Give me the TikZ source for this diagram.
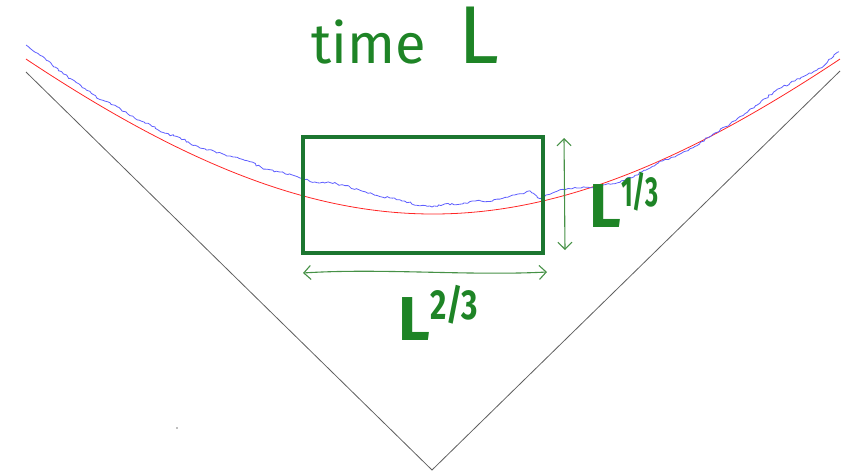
\documentclass[tikz,border=0pt]{standalone}
\usepackage{fontspec}
\newfontfamily\handfont{Fira Sans}
\usetikzlibrary{arrows.meta,decorations.pathmorphing}
\definecolor{boxgreen}{RGB}{28,118,48}
\definecolor{textgreen}{RGB}{30,132,38}
\definecolor{arrowgreen}{RGB}{70,145,70}
\definecolor{walkblue}{RGB}{95,95,255}
\definecolor{wedgegray}{RGB}{95,95,95}
\newcommand{\powlabel}[3]{L\kern#3\raisebox{21pt}{\fontsize{42}{42}\selectfont\scalebox{#2}[1]{#1}}}
\tikzset{
  wedge/.style={wedgegray, line width=0.8pt},
  limit/.style={red!85!white, line width=0.8pt},
  walk/.style={walkblue, line width=0.8pt,
    decorate, decoration={random steps, segment length=2.5pt, amplitude=1pt}},
  window/.style={boxgreen, line width=4pt},
  measure/.style={arrowgreen, line width=1.1pt,
    {Straight Barb[length=7pt,width=14pt]}-{Straight Barb[length=7pt,width=14pt]}},
  hand/.style={textgreen, font=\handfont, anchor=base west, inner sep=0pt},
}
\begin{document}
\begin{tikzpicture}[x=1pt,y=-1pt]
\useasboundingbox (0,0) rectangle (849,474);
\pgfmathsetseed{11}
% wedge
\coordinate (wl) at (26,72);
\coordinate (apex) at (432,470);
\coordinate (wr) at (840,71);
\draw[wedge] (wl) -- (apex) -- (wr);
\fill[black!25] (176,427) rectangle (178,429);
% limit shape
\draw[limit] plot[domain=26:840, samples=120] (\x,{671-457*sqrt(1+((\x-433)/457)^2)});
% interface
\draw[walk] (26,45) \foreach \x/\o in {40/13, 55/11, 70/9, 85/8, 100/6, 115/9, 130/7, 150/9,
    165/8, 180/11, 200/10, 215/13, 230/15, 250/17, 265/15, 280/17, 300/17, 315/17,
    330/20, 345/20, 360/18, 375/15, 390/14, 405/12, 420/8, 432/7, 445/10, 460/9,
    475/11, 490/9, 505/11, 520/12, 530/13, 540/3, 550/5, 560/7, 575/5, 590/0,
    605/-2, 620/-5, 635/-4, 650/-3, 665/-1, 675/-3, 690/-2, 700/-1, 715/1, 730/2,
    745/4, 760/6, 775/9, 790/8, 805/6, 820/4, 839/8}
  { -- (\x,{671-457*sqrt(1+((\x-433)/457)^2)-\o}) };
% window
\coordinate (bl) at (303,253);
\coordinate (tr) at (543,137);
\draw[window] (bl) rectangle (tr);
\coordinate (vtop) at (564,138);
\coordinate (vbot) at (565,250);
\draw[measure] (vtop) -- (vbot);
\coordinate (hleft) at (303,273);
\coordinate (hright) at (547,272);
\draw[measure] (hleft) .. controls (380,268) and (470,276) .. (hright);
% labels
\node[hand, font=\handfont\fontsize{56}{56}\selectfont] (time) at (311,63) {time};
\node[hand, font=\handfont\fontsize{82}{82}\selectfont] (bigL) at (458,63) {L};
\node[hand, font=\handfont\bfseries\fontsize{62}{62}\selectfont] (vlabel) at (589,227) {\powlabel{1/3}{0.6}{0pt}};
\node[hand, font=\handfont\bfseries\fontsize{62}{62}\selectfont] (hlabel) at (398,340) {\powlabel{2/3}{0.75}{0pt}};
\end{tikzpicture}
\end{document}
